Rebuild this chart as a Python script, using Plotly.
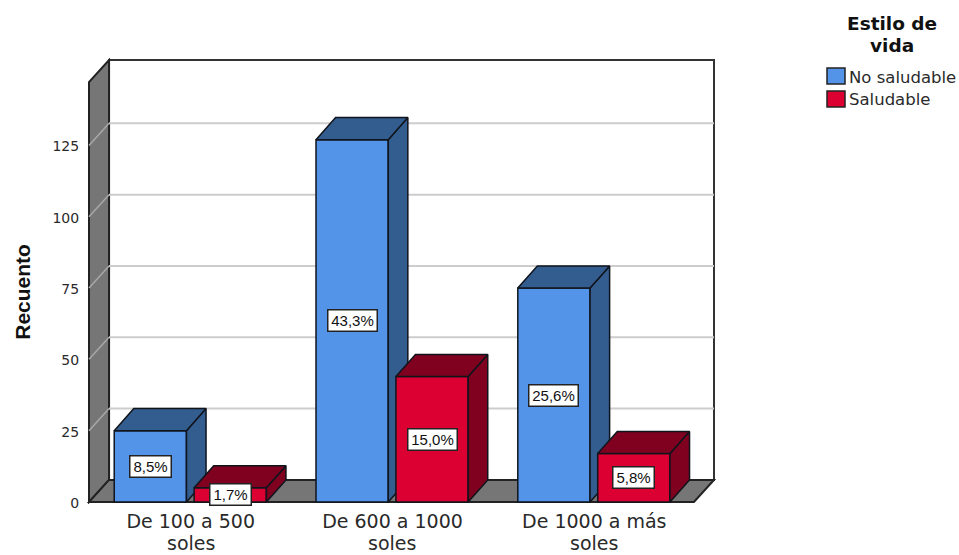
import plotly.graph_objects as go

# Data
category_first_lines = ["De 100 a 500", "De 600 a 1000", "De 1000 a más"]
category_second_lines = ["soles", "soles", "soles"]
no_saludable = [25, 127, 75]
saludable = [5, 44, 17]
pct_no_saludable = ["8,5%", "43,3%", "25,6%"]
pct_saludable = ["1,7%", "15,0%", "5,8%"]
y_ticks = [0, 25, 50, 75, 100, 125]

# Colours
BLUE, BLUE_DARK = "#5494E8", "#335C8F"
RED, RED_DARK = "#DC0032", "#7F001F"
EDGE = "#10141c"
WALL = "#767676"
GRID = "#cdcdcd"
GRID_ON_WALL = "#a8a8a8"
TEXT = "#2a2a2a"

# Box geometry in axis units
X0, X1 = -0.504, 2.494
DX, DY = 0.0993, 7.75
BAR_DX = 0.097
Y_TOP = 147.2
BAR_W = 0.358
BLUE_LEFT, RED_LEFT = -0.379, 0.017
PAD_X, PAD_Y = 0.0099, 0.7
positions = list(range(len(category_first_lines)))

# Plot frame in page pixels
M_L, M_R, M_T, M_B = 87, 243, 58, 50.5
PLOT_W, PLOT_H = 959 - M_L - M_R, 555 - M_T - M_B


def paper_x(px):
    return (px - M_L) / PLOT_W


def paper_y(py):
    return (555 - M_B - py) / PLOT_H


fig = go.Figure()


def add_series(name, values, left, front, dark, xa, ya):
    fig.add_trace(go.Bar(
        name=name, x=positions, y=values, width=BAR_W, offset=left,
        marker=dict(color=front, line=dict(color=EDGE, width=1.5)),
        xaxis=xa, yaxis=ya, showlegend=False,
    ))
    # Side and top faces, derived from each bar's value
    for p, v in zip(positions, values):
        a, b = p + left, p + left + BAR_W
        faces = [
            ([b, b + BAR_DX, b + BAR_DX, b, b], [0, DY, v + DY, v, 0]),
            ([a, a + BAR_DX, b + BAR_DX, b, a], [v, v + DY, v + DY, v, v]),
        ]
        for fx, fy in faces:
            fig.add_trace(go.Scatter(
                x=fx, y=fy, mode="lines", fill="toself", fillcolor=dark,
                line=dict(color=EDGE, width=1.5), xaxis=xa, yaxis=ya,
                showlegend=False, hoverinfo="skip",
            ))


add_series("No saludable", no_saludable, BLUE_LEFT, BLUE, BLUE_DARK, "x", "y")
add_series("Saludable", saludable, RED_LEFT, RED, RED_DARK, "x2", "y2")


def poly(points):
    return "M " + " L ".join(f"{x} {y}" for x, y in points) + " Z"


shapes = [
    # Back wall
    dict(type="path", path=poly([(X0 + DX, DY), (X1 + DX, DY), (X1 + DX, Y_TOP + DY), (X0 + DX, Y_TOP + DY)]),
         fillcolor="white", line=dict(color="#333333", width=2), layer="below", xref="x", yref="y"),
    # Side wall
    dict(type="path", path=poly([(X0, 0), (X0 + DX, DY), (X0 + DX, Y_TOP + DY), (X0, Y_TOP)]),
         fillcolor=WALL, line=dict(color="#222222", width=2), layer="below", xref="x", yref="y"),
    # Floor
    dict(type="path", path=poly([(X0, 0), (X1, 0), (X1 + DX, DY), (X0 + DX, DY)]),
         fillcolor=WALL, line=dict(color="#222222", width=2), layer="below", xref="x", yref="y"),
]
# Gridlines run across the side wall and then the back wall
for t in y_ticks[1:]:
    shapes.append(dict(type="line", x0=X0, y0=t, x1=X0 + DX, y1=t + DY,
                       line=dict(color=GRID_ON_WALL, width=1.5), layer="below", xref="x", yref="y"))
    shapes.append(dict(type="line", x0=X0 + DX, y0=t + DY, x1=X1 + DX, y1=t + DY,
                       line=dict(color=GRID, width=2), layer="below", xref="x", yref="y"))

# Legend swatches
for top, color in [(68, BLUE), (91, RED)]:
    shapes.append(dict(type="rect", xref="paper", yref="paper",
                       x0=paper_x(827), x1=paper_x(845),
                       y0=paper_y(top + 16), y1=paper_y(top),
                       fillcolor=color, line=dict(color="#222222", width=1.5)))

annotations = []
# Percentage boxes at the middle of each front face
for left, values, labels in [(BLUE_LEFT, no_saludable, pct_no_saludable), (RED_LEFT, saludable, pct_saludable)]:
    for p, v, lab in zip(positions, values, labels):
        annotations.append(dict(
            x=p + left + BAR_W / 2, y=v / 2, xref="x", yref="y", text=lab, showarrow=False,
            font=dict(family="Liberation Sans", size=15, color="#111111"),
            bgcolor="white", bordercolor="#222222", borderwidth=1.5,
            width=46 if len(lab) > 4 else 38, height=18, align="center", valign="middle",
        ))

# Second line of each category label, set closer than a tick label's line height
for p, line in zip(positions, category_second_lines):
    annotations.append(dict(
        x=p, y=paper_y(543.5), xref="x", yref="paper", text=line, showarrow=False,
        yanchor="middle", borderpad=0, font=dict(family="DejaVu Sans", size=19, color=TEXT),
    ))

# Legend title and entries
for py, line in [(23, "Estilo de"), (45.5, "vida")]:
    annotations.append(dict(
        x=paper_x(892), y=paper_y(py), xref="paper", yref="paper",
        xanchor="center", yanchor="middle", borderpad=0,
        text=f"<b>{line}</b>", showarrow=False,
        font=dict(family="DejaVu Sans", size=18.5, color="#111111"),
    ))
for py, label in [(78, "No saludable"), (100, "Saludable")]:
    annotations.append(dict(
        x=paper_x(848), y=paper_y(py), xref="paper", yref="paper",
        xanchor="left", yanchor="middle", text=label, showarrow=False,
        borderpad=0, font=dict(family="DejaVu Sans", size=16.5, color=TEXT),
    ))

# Value axis title
annotations.append(dict(
    x=paper_x(23), y=paper_y(292), xref="paper", yref="paper", textangle=-90,
    xanchor="center", yanchor="middle", text="<b>Recuento</b>", showarrow=False,
    font=dict(family="Liberation Sans", size=21, color="#111111"),
))

x_range = [X0 - PAD_X, X1 + DX + PAD_X]
y_range = [-PAD_Y, Y_TOP + DY + PAD_Y]

fig.update_layout(
    width=959, height=555,
    margin=dict(l=M_L, r=M_R, t=M_T, b=M_B, pad=0),
    paper_bgcolor="white", plot_bgcolor="white",
    barmode="overlay",
    showlegend=False,
    shapes=shapes, annotations=annotations,
    xaxis=dict(range=x_range, tickmode="array", tickvals=positions, ticktext=category_first_lines,
               showgrid=False, zeroline=False, showline=False, automargin=False,
               ticks="outside", ticklen=0.5, tickcolor="rgba(0,0,0,0)",
               tickfont=dict(family="DejaVu Sans", size=19, color=TEXT)),
    yaxis=dict(range=y_range, tickmode="array", tickvals=y_ticks,
               showgrid=False, zeroline=False, showline=False, automargin=False,
               ticks="outside", ticklen=4, tickcolor="rgba(0,0,0,0)", ticklabelshift=1,
               tickfont=dict(family="DejaVu Sans", size=14, color=TEXT)),
    xaxis2=dict(range=x_range, overlaying="x", visible=False),
    yaxis2=dict(range=y_range, overlaying="y", visible=False),
)

fig.write_html("out.html")
